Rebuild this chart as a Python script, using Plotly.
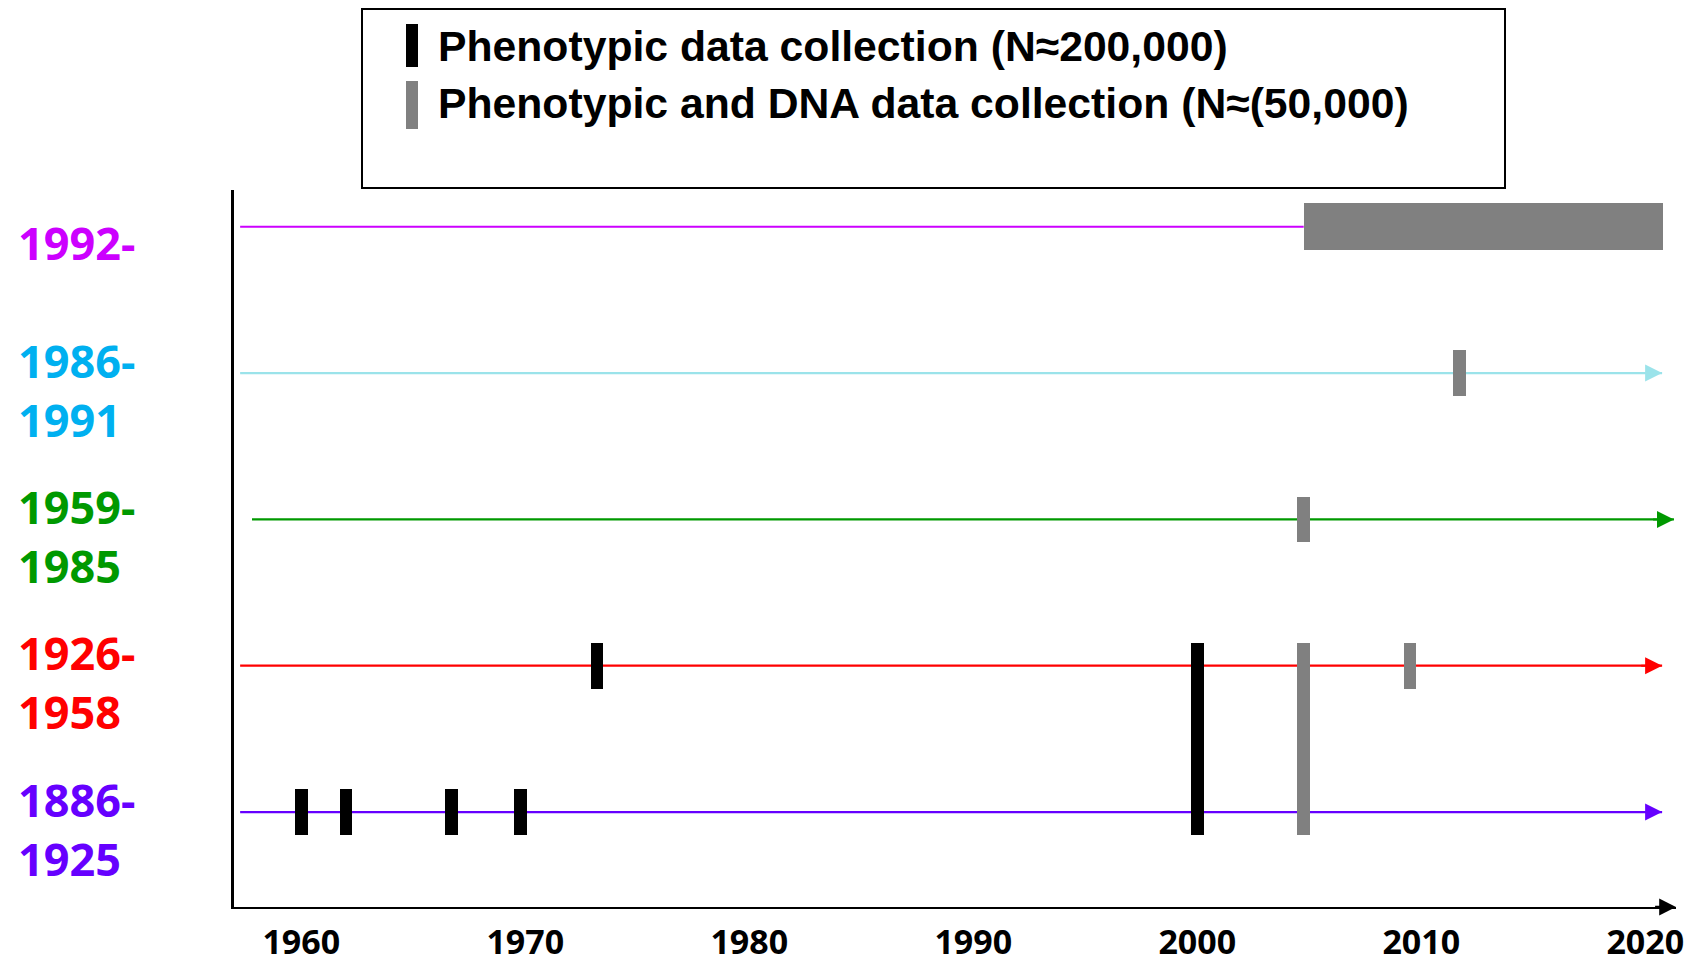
import plotly.graph_objects as go

# ---------------- data ----------------
row_labels = [["1886-", "1925"], ["1926-", "1958"], ["1959-", "1985"], ["1986-", "1991"], ["1992-"]]
row_label_colors = ["#6600FF", "#FF0000", "#009900", "#00B0F0", "#CC00FF"]
row_line_colors = ["#6600FF", "#FF0000", "#009900", "#9BE3EA", "#CC00FF"]
row_pos = [0, 1, 2, 3, 4]
line_start = [1957.27, 1957.27, 1957.8, 1957.27, 1957.27]
line_end = [2020.75, 2020.75, 2021.28, 2020.75, 2004.75]
line_arrow = [True, True, True, True, False]

# phenotypic data collection waves (black)
pheno_year = [1960, 1962, 1966.7, 1969.8, 1973.2, 2000]
pheno_row_from = [0, 0, 0, 0, 1, 0]
pheno_row_to = [0, 0, 0, 0, 1, 1]

# phenotypic and DNA data collection waves (gray)
dna_year = [2004.75, 2009.5, 2004.75, 2011.7]
dna_row_from = [0, 1, 2, 3]
dna_row_to = [1, 1, 2, 3]
dna_period_start = [2004.75]
dna_period_end = [2020.78]
dna_period_row = [4]

tick_years = [1960, 1970, 1980, 1990, 2000, 2010, 2020]
tick_labels = ["1960", "1970", "1980", "1990", "2000", "2010", "2020"]

legend_texts = ["Phenotypic data collection (N\u2248200,000)",
                "Phenotypic and DNA data collection (N\u2248(50,000)"]
legend_colors = ["#000000", "#808080"]

# ---------------- layout constants ----------------
OFF = 8                      # page body margin
W, H = 1698 - OFF, 964 - OFF
L, R, T, B = 234 - OFF, 1676 - OFF, 190 - OFF, 907 - OFF
XR = [1956.996, 2021.37]
YR = [-0.649, 4.251]
BAR_W = 0.567
HALF = 0.156

def paper_x(px):
    return (px - OFF - L) / (R - L)

def paper_y(py):
    return (B - (py - OFF)) / (B - T)

fig = go.Figure()

# timeline lines (under bars)
for r, c, s, e in zip(row_pos, row_line_colors, line_start, line_end):
    fig.add_trace(go.Scatter(x=[s, e], y=[r, r], mode="lines",
                             line=dict(color=c, width=2.2), showlegend=False,
                             hoverinfo="skip"))

# black bars
fig.add_trace(go.Bar(
    x=pheno_year,
    base=[a - HALF for a in pheno_row_from],
    y=[(b + HALF) - (a - HALF) for a, b in zip(pheno_row_from, pheno_row_to)],
    width=[BAR_W] * len(pheno_year),
    marker=dict(color=legend_colors[0], line=dict(width=0)),
    name=legend_texts[0], showlegend=False, xaxis="x2", yaxis="y2"))

# gray bars (waves + period)
gx = dna_year + [(s + e) / 2 for s, e in zip(dna_period_start, dna_period_end)]
gw = [BAR_W] * len(dna_year) + [e - s for s, e in zip(dna_period_start, dna_period_end)]
gbase = [a - HALF for a in dna_row_from] + [r - 0.162 for r in dna_period_row]
gh = [(b + HALF) - (a - HALF) for a, b in zip(dna_row_from, dna_row_to)] + [0.324] * len(dna_period_row)
fig.add_trace(go.Bar(
    x=gx, base=gbase, y=gh, width=gw,
    marker=dict(color=legend_colors[1], line=dict(width=0)),
    name=legend_texts[1], showlegend=False, xaxis="x2", yaxis="y2"))

annotations = []
# arrowheads
for r, c, e, a in zip(row_pos, row_line_colors, line_end, line_arrow):
    if a:
        annotations.append(dict(x=e, y=r, ax=e - 1.0, ay=r, xref="x", yref="y",
                                axref="x", ayref="y", text="", showarrow=True,
                                arrowhead=2, arrowsize=1.7, arrowwidth=2,
                                arrowcolor=c))
# x-axis arrowhead
annotations.append(dict(x=XR[1], y=YR[0], ax=XR[1] - 1.0, ay=YR[0], xref="x", yref="y",
                        axref="x", ayref="y", text="", showarrow=True,
                        arrowhead=2, arrowsize=1.4, arrowwidth=2.4, arrowcolor="black"))

# row labels
label_font = dict(family="Comic Sans MS, Noto Sans, sans-serif", size=45, weight="bold")
for r, lines, c in zip(row_pos, row_labels, row_label_colors):
    sh = -16.0 if len(lines) == 1 else -16.5
    annotations.append(dict(x=paper_x(16), y=r, xref="paper", yref="y",
                            text="<br>".join(lines), showarrow=False, xanchor="left",
                            align="left", yanchor="middle", yshift=sh,
                            font=dict(color=c, **label_font)))

# legend box
shapes = [dict(type="rect", xref="paper", yref="paper",
               x0=paper_x(362), x1=paper_x(1505), y0=paper_y(9), y1=paper_y(188),
               line=dict(color="black", width=2), fillcolor="white", layer="above")]
leg_bar_y = [(24, 67), (81, 129)]
leg_text_y = [45.5, 103]
for (y0, y1), ty, txt, c in zip(leg_bar_y, leg_text_y, legend_texts, legend_colors):
    shapes.append(dict(type="rect", xref="paper", yref="paper",
                       x0=paper_x(406), x1=paper_x(418), y0=paper_y(y1), y1=paper_y(y0),
                       line=dict(width=0), fillcolor=c, layer="above"))
    annotations.append(dict(x=paper_x(436), y=paper_y(ty), xref="paper", yref="paper",
                            text=txt, showarrow=False, xanchor="left", yanchor="middle",
                            font=dict(family="Liberation Sans, Arial, sans-serif",
                                      size=42.7, weight="bold", color="black")))

fig.update_layout(
    width=W, height=H,
    margin=dict(l=L, r=W - R, t=T, b=H - B, pad=0, autoexpand=False),
    paper_bgcolor="white", plot_bgcolor="white",
    barmode="overlay", bargap=0,
    showlegend=False,
    annotations=annotations, shapes=shapes,
    xaxis=dict(range=XR, showgrid=False, zeroline=False, showline=True,
               linecolor="black", linewidth=2.4, ticks="", automargin=False,
               tickvals=tick_years, ticktext=tick_labels, ticklabelstandoff=4,
               tickfont=dict(family="Comic Sans MS, Noto Sans, sans-serif",
                             size=34, weight="bold", color="black"),
               fixedrange=True),
    yaxis=dict(range=YR, showgrid=False, zeroline=False, showline=True,
               linecolor="black", linewidth=3, showticklabels=False, ticks="",
               automargin=False, fixedrange=True),
    xaxis2=dict(range=XR, overlaying="x", visible=False, fixedrange=True),
    yaxis2=dict(range=YR, overlaying="y", visible=False, fixedrange=True),
)

fig.write_html("out.html")
